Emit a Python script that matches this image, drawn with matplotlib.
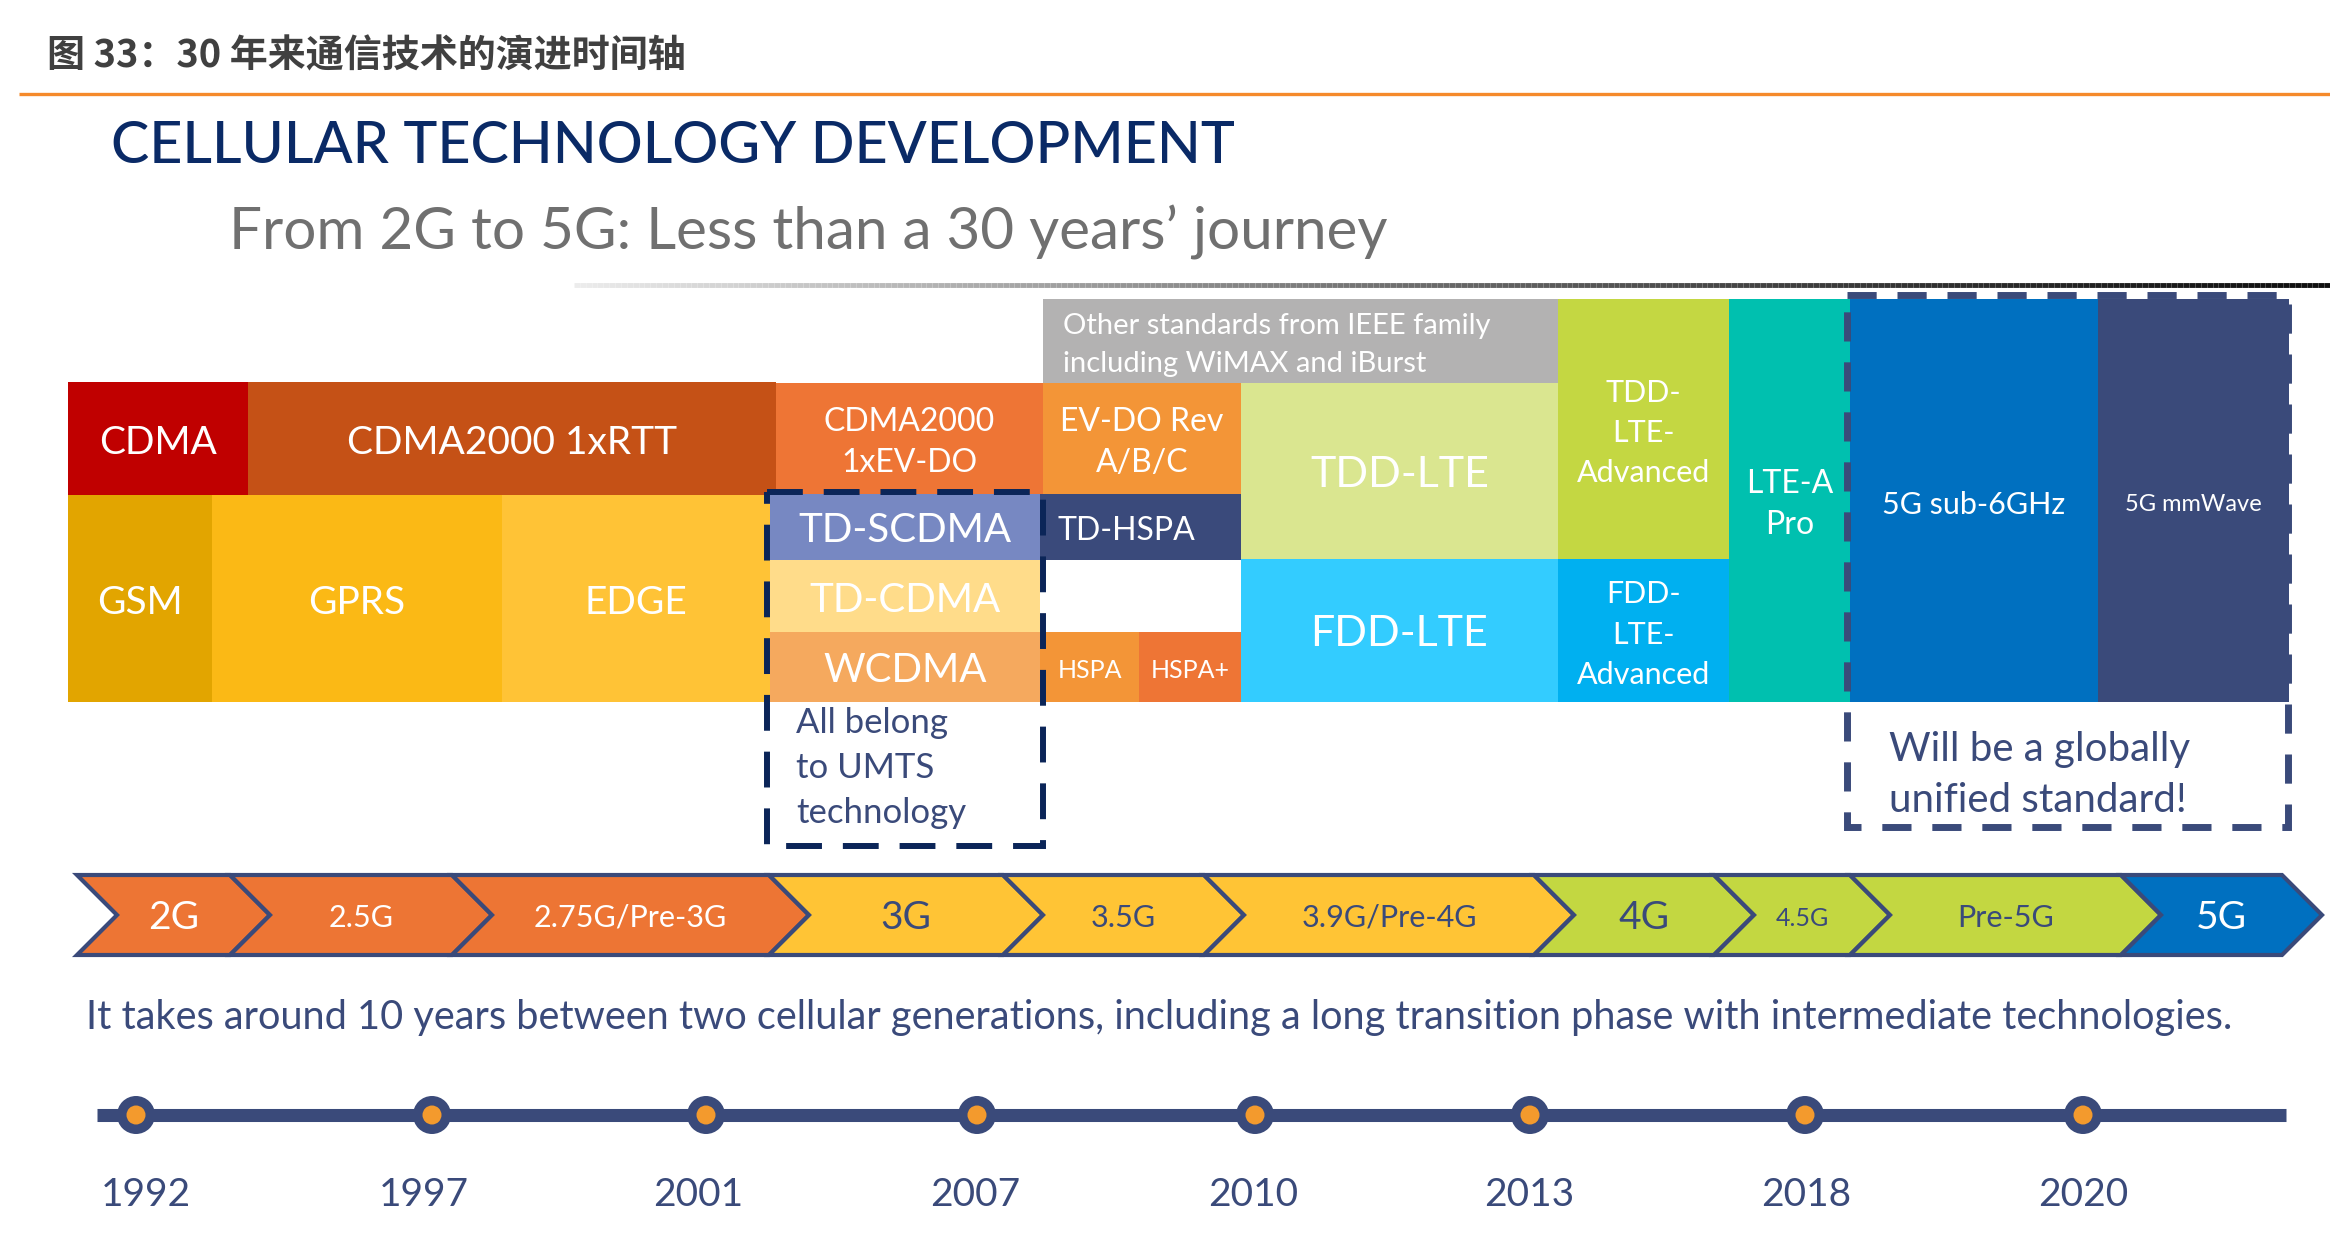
"""Cellular technology timeline infographic (2G -> 5G)."""
import numpy as np
import matplotlib
matplotlib.use("Agg")
import matplotlib.pyplot as plt
from matplotlib.patches import Rectangle, Polygon, Circle
from matplotlib.collections import LineCollection

plt.rcParams["font.family"] = ["Lato", "DejaVu Sans"]

W, H = 2330, 1258
NAVY = "#3A4A7A"
DARK_NAVY = "#0B2558"
TITLE_NAVY = "#0A2A66"

# ---- data -----------------------------------------------------------------
tech_labels = ["CDMA", "CDMA2000 1xRTT", "GSM", "GPRS", "EDGE",
               "CDMA2000\n1xEV-DO", "EV-DO Rev\nA/B/C",
               "TD-SCDMA", "TD-CDMA", "WCDMA", "TD-HSPA", "HSPA", "HSPA+",
               "Other standards from IEEE family\nincluding WiMAX and iBurst",
               "TDD-LTE", "FDD-LTE",
               "TDD-\nLTE-\nAdvanced", "FDD-\nLTE-\nAdvanced",
               "LTE-A\nPro", "5G sub-6GHz", "5G mmWave"]
tech_colors = ["#C00000", "#C55116", "#E2A500", "#FBB915", "#FFC336",
               "#EE7535", "#F39537",
               "#7788C2", "#FFDC8A", "#F5A95E", "#3A4A7B", "#F39537", "#EE7535",
               "#B3B2B2",
               "#DAE690", "#33CCFF",
               "#C4D742", "#00B0F0",
               "#00C0AF", "#0070C0", "#3A4A7A"]

gen_labels = ["2G", "2.5G", "2.75G/Pre-3G", "3G", "3.5G", "3.9G/Pre-4G",
              "4G", "4.5G", "Pre-5G", "5G"]
gen_colors = ["#ED7534"] * 3 + ["#FFC435"] * 3 + ["#C3D741"] * 3 + ["#0070C0"]
gen_text_colors = ["white"] * 3 + [NAVY] * 6 + ["white"]

years = [1992, 1997, 2001, 2007, 2010, 2013, 2018, 2020]

# ---- layout (pixel grid of the slide) --------------------------------------
tech_boxes = [(68, 248, 382, 495), (248, 776, 382, 495),
              (68, 212, 495, 702), (212, 502, 495, 702), (502, 770, 495, 702),
              (776, 1043, 383, 494), (1043, 1241, 383, 494),
              (770, 1040, 494, 560), (770, 1040, 560, 632), (770, 1040, 632, 702),
              (1040, 1241, 494, 560), (1040, 1139, 632, 702), (1139, 1241, 632, 702),
              (1043, 1558, 299, 383),
              (1241, 1558, 383, 559), (1241, 1558, 559, 702),
              (1558, 1729, 299, 559), (1558, 1729, 559, 702),
              (1729, 1850, 299, 702), (1850, 2098, 299, 702), (2098, 2289, 299, 702)]
tech_sizes = [28, 28, 28, 28, 28, 23, 23, 29, 29, 29, 23, 18, 18, 21,
              31, 31, 22, 22, 23, 22, 17]

gen_edges = [77, 230, 452, 769, 1003, 1204, 1534, 1714, 1850, 2121, 2282]
gen_sizes = [28, 22, 22, 28, 22, 22, 28, 18, 22, 28]
band_top, band_bot, chev = 875, 955, 40

year_x = [136, 432, 706, 977, 1255, 1530, 1805, 2083]
year_label_x = [146, 424, 698, 975, 1253, 1529, 1806, 2083]
line_y = 1115

fig = plt.figure(figsize=(W / 100, H / 100), dpi=100)
ax = fig.add_axes([0, 0, 1, 1])
ax.set_xlim(0, W)
ax.set_ylim(H, 0)
ax.axis("off")

# header
ax.text(47, 56, "图 33：30 年来通信技术的演进时间轴", fontsize=27.4, fontweight="bold",
        color="#404040", va="center", ha="left",
        family=["Noto Sans CJK SC", "DejaVu Sans"])
ax.plot([19, W], [94, 94], color="#F58A2B", lw=2.4, solid_capstyle="butt")

ax.text(111, 163, "CELLULAR TECHNOLOGY DEVELOPMENT", fontsize=41.3,
        color=TITLE_NAVY, ha="left", va="baseline", fontweight="medium")
ax.text(229, 250, "From 2G to 5G: Less than a 30 years\u2019 journey", fontsize=42,
        color="#707070", ha="left", va="baseline")

# gradient rule under the subtitle
gx = np.linspace(574, W, 300)
segs = [[(gx[i], 285), (gx[i + 1], 285)] for i in range(len(gx) - 1)]
shade = np.linspace(0.95, 0.15, len(segs)) ** 1.5
ax.add_collection(LineCollection(segs, colors=[(s, s, s) for s in shade],
                                 linewidths=3.5))

# technology blocks
for lab, col, (x0, x1, y0, y1), fs in zip(tech_labels, tech_colors, tech_boxes, tech_sizes):
    ax.add_patch(Rectangle((x0, y0), x1 - x0, y1 - y0, facecolor=col,
                           edgecolor="none"))
    cy = (y0 + y1) / 2 + 4
    ls = 33.5 / fs
    if lab.startswith("Other"):
        ax.text(x0 + 20, cy, lab, fontsize=fs, color="white",
                ha="left", va="center", linespacing=ls)
    elif lab == "TD-HSPA":
        ax.text(x0 + 18, cy, lab, fontsize=fs, color="white",
                ha="left", va="center")
    else:
        ax.text((x0 + x1) / 2, cy, lab, fontsize=fs, color="white",
                ha="center", va="center", linespacing=ls)

# dashed groupings
ax.add_patch(Rectangle((767, 492), 1043 - 767, 846 - 492, fill=False,
                       edgecolor=DARK_NAVY, lw=4.3, linestyle=(0, (6, 3.5))))
ax.text(796, 768, "All belong\nto UMTS\ntechnology", fontsize=25, color=NAVY,
        ha="left", va="center", linespacing=1.5)
ax.add_patch(Rectangle((1847, 295), 2288 - 1847, 827 - 295, fill=False,
                       edgecolor=NAVY, lw=5, linestyle=(0, (4.2, 3))))
ax.text(1889, 775, "Will be a globally\nunified standard!", fontsize=29,
        color=NAVY, ha="left", va="center", linespacing=1.45)

# generation chevrons
mid = (band_top + band_bot) / 2
for i, (lab, col, tcol, fs) in enumerate(zip(gen_labels, gen_colors,
                                             gen_text_colors, gen_sizes)):
    x0, x1 = gen_edges[i], gen_edges[i + 1]
    pts = [(x0, band_top), (x1, band_top), (x1 + chev, mid), (x1, band_bot),
           (x0, band_bot), (x0 + chev, mid)]
    ax.add_patch(Polygon(pts, closed=True, facecolor=col, edgecolor=NAVY,
                         lw=3, joinstyle="miter"))
    ax.text((x0 + x1) / 2 + chev / 2, mid + 3, lab, fontsize=fs, color=tcol,
            ha="center", va="center")

ax.text(86, 1017, "It takes around 10 years between two cellular generations, "
        "including a long transition phase with intermediate technologies.",
        fontsize=28.6, color=NAVY, ha="left", va="center")

# year timeline
ax.plot([97, 2286], [line_y, line_y], color=NAVY, lw=9.4, solid_capstyle="butt")
for x, lx, yr in zip(year_x, year_label_x, years):
    ax.add_patch(Circle((x, line_y), 19, facecolor=NAVY, edgecolor="none", zorder=3))
    ax.add_patch(Circle((x, line_y), 9.5, facecolor="#F39A2D", edgecolor="none", zorder=4))
    ax.text(lx, 1195, str(yr), fontsize=28, color=NAVY, ha="center", va="center")

fig.savefig("out.png", dpi=100)
